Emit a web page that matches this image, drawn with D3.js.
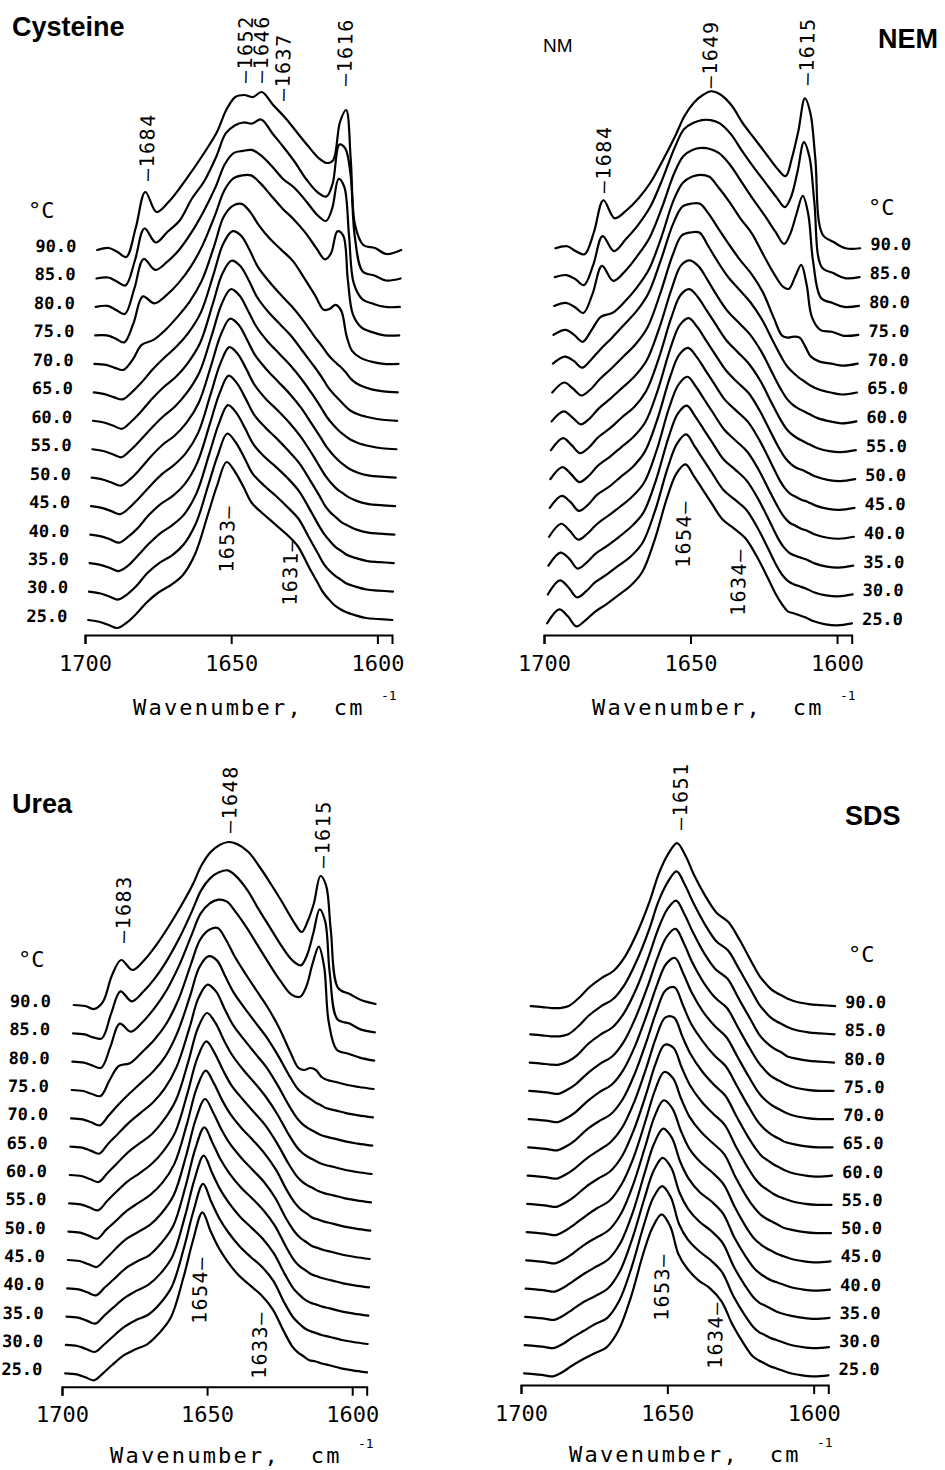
<!DOCTYPE html>
<html>
<head>
<meta charset="utf-8">
<script src="https://cdn.jsdelivr.net/npm/d3@7"></script>
<style>
  body { margin: 0; background: #fff; }
  svg { display: block; }
  .curve { fill: none; stroke: #000; stroke-width: 2.2; stroke-linejoin: round; stroke-linecap: round; }
  .axis path, .axis line { stroke: #000; stroke-width: 2; }
  .axis text { font-family: "DejaVu Sans Mono", monospace; font-size: 22px; fill: #000; }
  .title { font-family: "Liberation Sans", Arial, sans-serif; font-weight: bold; font-size: 27px; }
  .note { font-family: "Liberation Sans", Arial, sans-serif; font-size: 19px; }
  .temp { font-family: "DejaVu Sans Mono", monospace; font-weight: bold; font-size: 17px; }
  .deg { font-family: "DejaVu Sans Mono", monospace; font-size: 22px; }
  .peak { font-family: "DejaVu Sans Mono", monospace; font-size: 20px; letter-spacing: 1.5px; }
  .xlab { font-family: "DejaVu Sans Mono", monospace; font-size: 22px; letter-spacing: 2.2px; white-space: pre; }
  .sup { font-family: "DejaVu Sans Mono", monospace; font-size: 13px; }
</style>
</head>
<body>
<svg id="chart" width="945" height="1470"></svg>
<script>
'use strict'

/****** DATA ******/

// wavenumber grid (cm-1) shared by every spectrum
const wavenumbers = [1699, 1695, 1692, 1689, 1686, 1683, 1679, 1675, 1671, 1667, 1663, 1659, 1656, 1653, 1650, 1647,
                     1644, 1640, 1636, 1632, 1628, 1624, 1621, 1619, 1617, 1615, 1613, 1611, 1608, 1604, 1600, 1595]

// temperatures, bottom spectrum first
const temps = [25, 30, 35, 40, 45, 50, 55, 60, 65, 70, 75, 80, 85, 90]

const xTicks = [1700, 1650, 1600]

// absorbance (arbitrary units), one row per temperature
const cysteine = [
  [0,-2,-5,-8,-3,5,18,28,35,45,66,105,135,158,148,133,117,106,96,86,74,53,38,28,21,15,11,8,5,2,1,0],
  [0,-2,-5,-8,-3,5,19,29,36,47,68,107,137,158,149,134,118,106,96,85,73,53,38,28,21,16,12,8,5,2,1,0],
  [0,-2,-5,-8,-3,6,19,30,38,49,70,109,139,158,150,135,119,106,96,85,72,53,38,29,22,16,12,8,5,2,1,0],
  [0,-2,-5,-8,-2,6,20,31,39,51,72,111,141,159,151,136,120,107,96,84,71,53,39,29,22,17,12,9,5,2,1,0],
  [0,-2,-5,-8,-2,7,20,32,41,53,73,112,142,159,152,137,121,107,96,84,70,53,39,30,23,17,13,9,5,2,1,0],
  [0,-2,-5,-8,-2,7,21,33,42,55,75,113,143,159,153,138,122,108,96,84,70,53,40,31,24,18,13,9,5,2,1,0],
  [0,-2,-5,-8,-1,8,21,33,43,57,77,115,145,160,154,139,123,108,96,84,70,54,41,32,25,19,14,10,6,3,1,0],
  [0,-2,-5,-8,-1,8,22,34,44,58,78,117,147,160,155,141,124,109,97,85,70,55,43,34,27,21,15,10,6,3,1,0],
  [0,-2,-5,-7,0,9,23,35,46,60,80,118,148,161,157,143,126,111,98,86,72,56,45,37,31,26,20,13,7,3,1,0],
  [0,-1,-4,-6,4,19,24,34,47,62,83,118,147,158,160,152,139,125,114,103,86,68,54,55,59,53,28,13,6,2,0,0],
  [0,0,-3,-7,12,39,32,40,52,68,90,120,145,157,160,160,153,140,127,116,103,87,76,82,104,100,55,21,8,3,0,0],
  [0,1,-3,-7,18,48,37,45,57,74,95,120,143,154,156,157,152,141,128,119,106,92,86,98,128,120,72,24,8,3,0,0],
  [0,1,-3,-7,18,50,36,47,58,80,97,122,145,153,156,155,159,145,131,116,99,86,82,95,134,130,105,42,7,3,-2,0],
  [0,2,-2,-7,22,58,38,48,63,80,98,118,140,153,155,153,158,145,133,119,105,92,87,90,128,140,90,25,5,2,-4,0]
]

const nem = [
  [0,14,7,-3,3,11,19,28,37,51,83,126,150,159,147,134,121,104,95,85,67,45,28,19,12,10,8,6,2,-1,-2,0],
  [0,14,7,-3,3,12,20,29,38,52,84,127,151,160,148,135,122,105,95,85,67,45,28,19,13,10,8,6,2,-1,-2,0],
  [0,13,7,-3,3,12,20,29,39,53,85,128,152,160,149,136,123,106,96,85,67,45,28,19,13,10,8,6,2,-1,-2,0],
  [0,13,6,-3,3,12,21,30,40,54,86,129,152,160,150,137,124,107,96,85,67,45,29,20,14,11,8,6,2,-1,-2,0],
  [0,12,6,-3,3,13,21,31,41,56,88,130,153,160,151,138,125,108,97,86,68,46,29,20,14,11,8,6,2,-1,-2,0],
  [0,12,5,-3,3,13,22,32,42,57,89,131,154,161,152,139,126,109,97,86,68,46,30,21,15,11,9,6,2,-1,-2,0],
  [0,12,5,-3,3,13,22,33,43,59,91,132,155,161,153,140,127,110,98,86,69,47,31,22,16,12,9,6,2,-1,-2,0],
  [0,10,4,-3,3,13,23,34,45,61,93,133,156,161,155,142,128,111,99,87,70,48,32,23,17,13,10,7,3,0,-2,0],
  [0,10,4,-3,3,13,24,36,48,65,98,137,157,160,160,147,133,116,103,90,73,51,35,26,20,15,11,7,3,0,-2,0],
  [0,7,3,-4,4,14,26,39,52,70,103,140,157,160,160,150,137,120,104,90,72,46,28,26,27,26,17,7,2,0,-2,0],
  [0,5,0,-7,5,18,22,33,47,65,97,135,152,158,160,158,148,133,116,101,80,60,48,46,58,70,50,18,5,3,-1,0],
  [0,3,-1,-7,12,40,25,35,50,68,98,133,150,156,158,157,153,141,124,107,91,74,62,72,92,110,92,45,8,3,-1,0],
  [0,2,-2,-8,12,41,26,38,52,70,98,130,148,154,157,157,154,143,126,110,95,80,70,80,105,135,120,75,10,4,-1,0],
  [0,2,-3,-6,16,48,30,38,50,66,88,112,132,145,153,157,154,143,125,110,95,80,72,90,117,150,135,90,14,6,0,0]
]

const urea = [
  [0,-1,-4,-7,0,8,18,24,29,40,56,96,133,161,142,125,112,98,88,78,64,42,27,21,17,13,12,10,8,5,3,1],
  [0,-1,-4,-7,0,8,18,25,30,41,58,98,135,161,143,126,113,99,88,78,64,42,28,22,17,14,12,10,8,5,3,1],
  [0,-1,-4,-7,1,9,19,26,32,43,60,100,137,161,144,127,114,100,89,78,63,42,28,22,17,14,12,10,8,5,3,1],
  [0,-1,-4,-7,1,9,20,27,33,45,62,102,139,161,145,128,115,101,90,78,63,42,28,22,18,14,12,10,8,5,3,1],
  [0,-1,-4,-7,1,10,21,28,35,47,65,105,141,161,147,130,116,102,90,78,62,41,28,22,18,14,12,10,8,5,3,1],
  [0,-1,-4,-7,2,10,21,29,37,49,68,108,143,161,148,131,117,103,91,78,62,41,28,22,18,14,12,10,8,5,3,1],
  [0,-1,-4,-7,2,11,22,30,39,52,71,111,145,162,150,133,118,104,91,78,61,41,28,22,18,15,12,10,8,5,3,1],
  [0,-1,-4,-7,2,11,23,32,41,55,75,114,147,162,152,135,120,105,92,78,61,41,28,22,18,15,12,10,8,5,3,1],
  [0,-1,-4,-7,3,12,24,34,44,58,80,118,149,162,155,138,122,107,93,79,61,41,28,22,18,15,12,10,8,5,3,1],
  [0,-1,-4,-7,3,13,25,36,47,62,86,122,151,162,158,142,126,110,95,80,62,42,29,24,20,16,13,10,8,5,3,1],
  [0,-1,-4,-6,10,24,27,38,50,66,90,125,150,160,162,150,134,116,99,82,62,38,22,20,22,20,13,10,8,5,3,1],
  [0,-1,-4,-6,15,38,30,40,54,72,96,126,148,158,162,160,150,134,116,98,81,67,65,75,98,115,95,40,12,8,4,1],
  [0,-1,-4,-5,20,42,32,42,56,74,96,122,143,155,161,163,157,143,124,106,88,73,68,78,100,124,112,60,14,10,4,1],
  [0,-1,-4,3,30,45,35,45,60,78,98,120,140,153,160,163,161,153,138,121,103,84,73,84,102,129,120,75,17,11,5,1]
]

const sds = [
  [0,-1,-2,-3,1,7,14,20,26,43,76,120,146,159,147,119,105,93,85,72,48,29,17,13,10,7,5,3,0,-2,-3,-2],
  [0,-1,-2,-3,1,7,14,21,27,44,77,120,147,159,148,121,106,94,85,73,49,30,18,13,10,7,5,3,0,-2,-3,-2],
  [0,-1,-2,-3,1,7,15,21,28,45,77,118,146,159,149,124,108,95,86,74,50,31,19,14,11,8,5,3,1,-1,-2,-1],
  [0,-1,-2,-3,1,7,15,22,29,45,75,116,145,160,151,127,110,96,87,75,51,32,20,15,11,8,6,4,1,-1,-2,-1],
  [0,-1,-2,-3,1,7,16,23,30,46,75,114,144,160,152,130,112,98,88,76,53,33,21,16,12,9,6,4,1,-1,-2,-1],
  [0,-1,-2,-3,1,7,16,24,31,47,74,112,142,160,154,133,115,100,89,78,55,35,23,17,13,10,7,4,2,0,-1,-1],
  [0,-1,-2,-3,1,7,17,25,32,47,74,110,140,159,156,136,118,102,90,79,57,37,24,18,14,10,7,5,2,0,-1,-1],
  [0,-1,-2,-3,1,7,17,25,33,48,74,109,138,158,158,139,121,104,91,80,59,39,26,19,15,11,8,5,2,0,-1,0],
  [0,-1,-2,-3,1,7,18,26,33,48,74,108,136,157,160,142,123,106,92,81,61,41,27,20,15,11,8,5,3,1,0,0],
  [0,-1,-2,-3,1,7,18,27,34,49,74,107,134,155,161,145,126,107,93,82,62,42,28,21,16,12,9,6,3,1,0,0],
  [0,-1,-2,-3,1,7,18,27,34,49,74,106,133,154,162,147,128,108,93,83,63,43,29,22,16,12,9,6,3,1,0,0],
  [0,-1,-2,-2,1,7,19,28,35,50,74,106,133,153,162,148,130,109,93,84,64,44,29,22,17,13,10,6,4,2,1,0],
  [0,-1,-2,-2,0,7,19,28,35,50,74,105,133,152,163,149,131,110,93,84,65,45,30,23,17,13,10,7,4,2,1,0],
  [0,-1,-2,-2,0,7,19,28,35,50,74,105,133,152,163,150,131,110,93,84,66,45,30,23,17,13,10,7,4,2,1,0]
]

// band assignments: label, placement wavenumber, height of the label end above the curve baseline,
// 'top' = above the 90 °C spectrum, 'bottom' = under the 25 °C spectrum
const cysPeaks = [
  {label: '1684', at: 1682.8, h: 69, side: 'top'},
  {label: '1652', at: 1650.1, h: 167, side: 'top'},
  {label: '1646', at: 1644.6, h: 167, side: 'top'},
  {label: '1637', at: 1637.0, h: 149, side: 'top'},
  {label: '1616', at: 1615.9, h: 164, side: 'top'},
  {label: '1653', at: 1652.3, h: 115, side: 'bottom'},
  {label: '1631', at: 1630.4, h: 82, side: 'bottom'}
]
const nemPeaks = [
  {label: '1684', at: 1683.3, h: 55, side: 'top'},
  {label: '1649', at: 1647.7, h: 160, side: 'top'},
  {label: '1615', at: 1614.7, h: 163, side: 'top'},
  {label: '1654', at: 1653.2, h: 123, side: 'bottom'},
  {label: '1634', at: 1634.1, h: 75, side: 'bottom'}
]
const ureaPeaks = [
  {label: '1683', at: 1682.7, h: 62, side: 'top'},
  {label: '1648', at: 1646.9, h: 172, side: 'top'},
  {label: '1615', at: 1614.6, h: 137, side: 'top'},
  {label: '1654', at: 1653.3, h: 117, side: 'bottom'},
  {label: '1633', at: 1632.3, h: 62, side: 'bottom'}
]
const sdsPeaks = [
  {label: '1651', at: 1649.2, h: 176, side: 'top'},
  {label: '1653', at: 1652.5, h: 120, side: 'bottom'},
  {label: '1634', at: 1634.0, h: 72, side: 'bottom'}
]


/****** LAYOUT ******/

const panels = [
  {title: 'Cysteine', tx: 12, ty: 36, data: cysteine, peaks: cysPeaks,
   x0: 85, x1: 392, axisY: 635, base25: -15, step: 28.46, skew: 0.024, xlabDy: 80,
   side: 'left', tempGap: 18, degX: 28, degY: 218},
  {title: 'NEM', tx: 878, ty: 48, data: nem, peaks: nemPeaks, note: {text: 'NM', x: 543, y: 52},
   x0: 544, x1: 851.7, axisY: 635, base25: -11.7, step: 28.85, skew: 0.022, xlabDy: 80,
   side: 'right', tempGap: 10, degX: 868, degY: 215},
  {title: 'Urea', tx: 12, ty: 813, data: urea, peaks: ureaPeaks,
   x0: 62, x1: 366.7, axisY: 1386.7, base25: -13.4, step: 28.33, skew: 0.023, xlabDy: 76,
   side: 'left', tempGap: 20, degX: 18, degY: 967},
  {title: 'SDS', tx: 845, ty: 825, data: sds, peaks: sdsPeaks,
   x0: 521, x1: 828.3, axisY: 1385, base25: -11.7, step: 28.25, skew: 0.018, xlabDy: 77,
   side: 'right', tempGap: 10, degX: 848, degY: 962}
]

const svg = d3.select('#chart')

// 1 absorbance unit = 1 px upward
const intensity = d3.scaleLinear().domain([0, 100]).range([0, -100])
const tempFormat = d3.format('.1f')


/****** DRAW ******/

panels.forEach(p => {
  const x = d3.scaleLinear().domain([1700, 1595]).range([p.x0, p.x1])
  const base = d3.scaleLinear().domain([25, 90]).range([p.base25, p.base25 - 13 * p.step])

  const line = d3.line()
    .x((d, i) => x(wavenumbers[i]))
    .y(d => intensity(d))
    .curve(d3.curveCatmullRom.alpha(0.5))

  const g = svg.append('g')

  // axis
  const axis = g.append('g')
    .attr('class', 'axis')
    .attr('transform', `translate(0,${p.axisY})`)
    .call(d3.axisBottom(x).tickValues(xTicks).tickFormat(d3.format('d'))
      .tickSizeInner(9).tickSizeOuter(9).tickPadding(11))
  axis.attr('font-family', null).attr('font-size', null)

  g.append('text').attr('class', 'xlab')
    .attr('x', p.x0 + 48).attr('y', p.axisY + p.xlabDy)
    .text('Wavenumber,  cm')
  g.append('text').attr('class', 'sup')
    .attr('x', p.x0 + 296).attr('y', p.axisY + p.xlabDy - 15)
    .text('-1')

  // titles
  g.append('text').attr('class', 'title')
    .attr('x', p.tx).attr('y', p.ty)
    .text(p.title)
  if (p.note) {
    g.append('text').attr('class', 'note')
      .attr('x', p.note.x).attr('y', p.note.y)
      .text(p.note.text)
  }
  g.append('text').attr('class', 'deg')
    .attr('x', p.degX).attr('y', p.degY)
    .text('°C')

  // scanned figure leans a little: skew everything drawn above the axis
  const angle = -Math.atan(p.skew) * 180 / Math.PI
  const sk = g.append('g')
    .attr('transform', `translate(0,${p.axisY}) skewX(${angle})`)

  sk.selectAll('path.curve')
    .data(p.data)
    .join('path')
      .attr('class', 'curve')
      .attr('transform', (d, i) => `translate(0,${base(temps[i])})`)
      .attr('d', line)

  sk.selectAll('text.temp')
    .data(temps)
    .join('text')
      .attr('class', 'temp')
      .attr('x', p.side === 'left' ? p.x0 - p.tempGap : p.x1 + p.tempGap)
      .attr('y', t => base(t) - 4)
      .attr('dy', '0.35em')
      .attr('text-anchor', p.side === 'left' ? 'end' : 'start')
      .text(t => tempFormat(t))

  sk.selectAll('text.peak')
    .data(p.peaks)
    .join('text')
      .attr('class', 'peak')
      .attr('transform', d => {
        const b = d.side === 'top' ? base(90) : base(25)
        return `translate(${x(d.at)},${b + intensity(d.h)}) rotate(-90)`
      })
      .attr('dy', '0.36em')
      .attr('text-anchor', d => d.side === 'top' ? 'start' : 'end')
      .text(d => d.side === 'top' ? '–' + d.label : d.label + '–')
})
</script>
</body>
</html>
